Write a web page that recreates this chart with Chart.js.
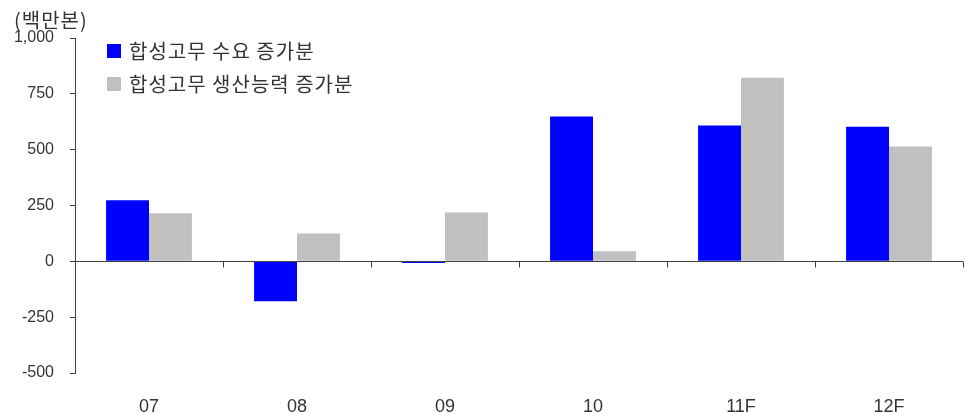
<!DOCTYPE html>
<html><head><meta charset="utf-8">
<script src="https://cdn.jsdelivr.net/npm/chart.js@4"></script>
<style>html,body{margin:0;padding:0;background:#fff}</style>
</head><body>
<canvas id="c" width="967" height="414" style="width:967px;height:414px;display:block"></canvas>
<script>
const categories = ['07', '08', '09', '10', '11F', '12F'];
const demandGrowth = [273, -179, -7, 648, 608, 603];
const capacityGrowth = [215, 125, 219, 45, 822, 514];
const seriesLabels = ['합성고무 수요 증가분', '합성고무 생산능력 증가분'];
const seriesColors = ['#0000FF', '#C0C0C0'];
const yTickValues = [-500, -250, 0, 250, 500, 750, 1000];
const unitLabel = '(백만본)';

const FONT = "'Liberation Sans', 'Noto Sans CJK KR', sans-serif";
const KFONT = "'Noto Sans CJK KR', 'Liberation Sans', sans-serif";
const AXIS = '#404040';
const TEXT = '#333333';

const overlay = {
  id: 'overlay',
  afterDatasetsDraw(chart) {
    const { ctx, scales: { x, y }, chartArea } = chart;
    const y0 = Math.round(y.getPixelForValue(0)) + 0.5;
    ctx.save();
    ctx.strokeStyle = AXIS;
    ctx.lineWidth = 1;
    ctx.beginPath();
    ctx.moveTo(chartArea.left, y0);
    ctx.lineTo(chartArea.right, y0);
    for (let i = 0; i <= categories.length; i++) {
      const px = Math.round(x.getPixelForValue(i - 0.5)) + 0.5;
      ctx.moveTo(px, y0);
      ctx.lineTo(px, y0 + 6);
    }
    ctx.stroke();
    ctx.restore();
  },
  afterDraw(chart) {
    const { ctx, chartArea } = chart;
    ctx.save();
    ctx.fillStyle = TEXT;
    ctx.font = '20px ' + KFONT;
    ctx.letterSpacing = '1px';
    ctx.textBaseline = 'middle';
    ctx.textAlign = 'left';
    ctx.fillText(unitLabel, 14, 20);
    const lx = chartArea.left + 32;
    const rows = [51, 84];
    chart.data.datasets.forEach((ds, i) => {
      ctx.fillStyle = ds.backgroundColor;
      ctx.fillRect(lx, rows[i] - 7, 14, 14);
      ctx.fillStyle = TEXT;
      ctx.fillText(ds.label, lx + 22, rows[i]);
    });
    ctx.restore();
  }
};

new Chart(document.getElementById('c'), {
  type: 'bar',
  data: {
    labels: categories,
    datasets: [
      { label: seriesLabels[0], data: demandGrowth, backgroundColor: seriesColors[0], borderWidth: 0 },
      { label: seriesLabels[1], data: capacityGrowth, backgroundColor: seriesColors[1], borderWidth: 0 }
    ]
  },
  options: {
    responsive: false,
    animation: false,
    devicePixelRatio: 1,
    layout: { padding: { left: 0, top: 38, right: 4, bottom: 0 } },
    categoryPercentage: 0.58,
    barPercentage: 1.0,
    plugins: { legend: { display: false }, tooltip: { enabled: false } },
    scales: {
      x: {
        grid: { display: false, drawTicks: false },
        border: { display: false },
        ticks: { color: TEXT, font: { size: 18, family: FONT }, padding: 23, maxRotation: 0 },
        afterFit(scale) { scale.height = 41; }
      },
      y: {
        min: -500, max: 1000,
        afterBuildTicks(scale) { scale.ticks = yTickValues.map(v => ({ value: v })); },
        grid: { drawOnChartArea: false, drawTicks: true, tickLength: 5, color: AXIS },
        border: { display: true, color: AXIS, width: 1 },
        ticks: {
          color: TEXT, font: { size: 16, family: FONT }, padding: 16,
          callback: v => v.toLocaleString('en-US')
        },
        afterFit(scale) { scale.width = 75; }
      }
    }
  },
  plugins: [overlay]
});
</script>
</body></html>
